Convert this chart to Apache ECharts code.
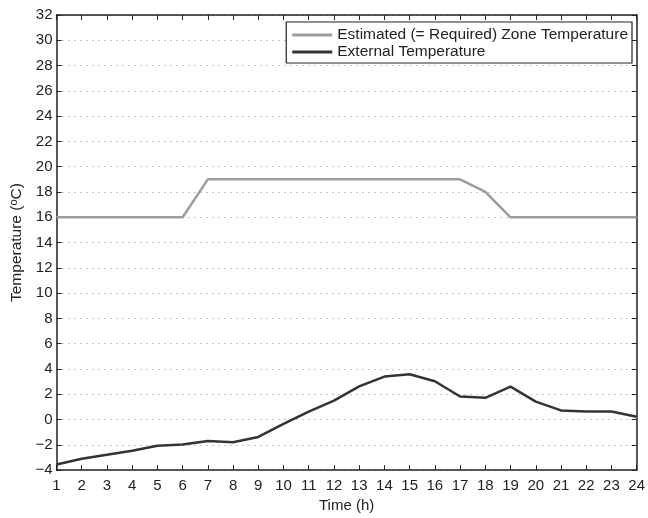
<!DOCTYPE html>
<html>
<head>
<meta charset="utf-8">
<script src="https://cdn.jsdelivr.net/npm/echarts@6/dist/echarts.min.js"></script>
<style>
  html, body { margin: 0; padding: 0; background: #fff; }
  #chart { width: 648px; height: 518px; }
</style>
</head>
<body>
<div id="chart"></div>
<script>
var hours = [1, 2, 3, 4, 5, 6, 7, 8, 9, 10, 11, 12, 13, 14, 15, 16, 17, 18, 19, 20, 21, 22, 23, 24];
var zoneTemp = [16, 16, 16, 16, 16, 16, 19, 19, 19, 19, 19, 19, 19, 19, 19, 19, 19, 18, 16, 16, 16, 16, 16, 16];
var externalTemp = [-3.55, -3.1, -2.78, -2.47, -2.07, -1.98, -1.7, -1.8, -1.38, -0.35, 0.62, 1.5, 2.62, 3.4, 3.58, 3.03, 1.82, 1.72, 2.6, 1.42, 0.72, 0.63, 0.63, 0.22];
var seriesNames = ['Estimated (= Required) Zone Temperature', 'External Temperature'];

(function() {
  var font = '"Liberation Sans", Arial, sans-serif';
  var ink = '#222';
  var zoneColor = '#9d9d9f';
  var extColor = '#333335';

  function pairs(ys) {
    return hours.map(function(h, i) { return [h, ys[i]]; });
  }

  var chart = echarts.init(document.getElementById('chart'), null, { renderer: 'canvas' });
  var boxAxis = {
    axisLine: { show: true, onZero: false, lineStyle: { color: ink, width: 1.5 } },
    axisTick: { show: true, inside: true, length: 5, lineStyle: { color: ink, width: 1 } },
    splitLine: { show: false }
  };

  chart.setOption({
    animation: false,
    backgroundColor: '#fff',
    grid: { left: 52, right: 10, top: 15, bottom: 41, containLabel: false },
    legend: {
      data: seriesNames,
      orient: 'vertical',
      right: 16,
      top: 22,
      icon: 'rect',
      itemWidth: 40,
      itemHeight: 3,
      itemGap: 1,
      padding: [5, 4, 3, 6],
      backgroundColor: '#fff',
      borderColor: ink,
      borderWidth: 1.2,
      borderRadius: 0,
      textStyle: { fontFamily: font, fontSize: 15.5, color: ink }
    },
    xAxis: [
      Object.assign({}, boxAxis, {
        type: 'value', min: 1, max: 24, interval: 1, position: 'bottom',
        name: 'Time (h)', nameLocation: 'middle', nameGap: 26,
        nameTextStyle: { fontFamily: font, fontSize: 15, color: ink },
        axisLabel: { fontFamily: font, fontSize: 15, color: ink, margin: 8 }
      }),
      Object.assign({}, boxAxis, {
        type: 'value', min: 1, max: 24, interval: 1, position: 'top',
        axisLabel: { show: false }
      })
    ],
    yAxis: [
      Object.assign({}, boxAxis, {
        type: 'value', min: -4, max: 32, interval: 2, position: 'left',
        name: '{n|Temperature (}{s|o}{n|C)}', nameLocation: 'middle', nameGap: 29,
        nameTextStyle: {
          fontFamily: font, fontSize: 15.5, color: ink,
          rich: {
            n: { fontFamily: font, fontSize: 15.5, color: ink },
            s: { fontFamily: font, fontSize: 11, color: ink, verticalAlign: 'top', padding: [0, 0, 6, 0] }
          }
        },
        axisLabel: {
          fontFamily: font, fontSize: 15, color: ink, margin: 4,
          formatter: function(v) { return String(v).replace('-', '\u2212'); }
        },
        splitLine: { show: true, lineStyle: { color: '#888', type: [1, 5], width: 1 } }
      }),
      Object.assign({}, boxAxis, {
        type: 'value', min: -4, max: 32, interval: 2, position: 'right',
        axisLabel: { show: false }
      })
    ],
    series: [
      {
        name: seriesNames[0],
        type: 'line',
        data: pairs(zoneTemp),
        showSymbol: false,
        symbol: 'none',
        lineStyle: { color: zoneColor, width: 2.5 },
        itemStyle: { color: zoneColor },
        z: 3
      },
      {
        name: seriesNames[1],
        type: 'line',
        data: pairs(externalTemp),
        showSymbol: false,
        symbol: 'none',
        lineStyle: { color: extColor, width: 2.5 },
        itemStyle: { color: extColor },
        z: 3
      }
    ]
  });
})();
</script>
</body>
</html>
